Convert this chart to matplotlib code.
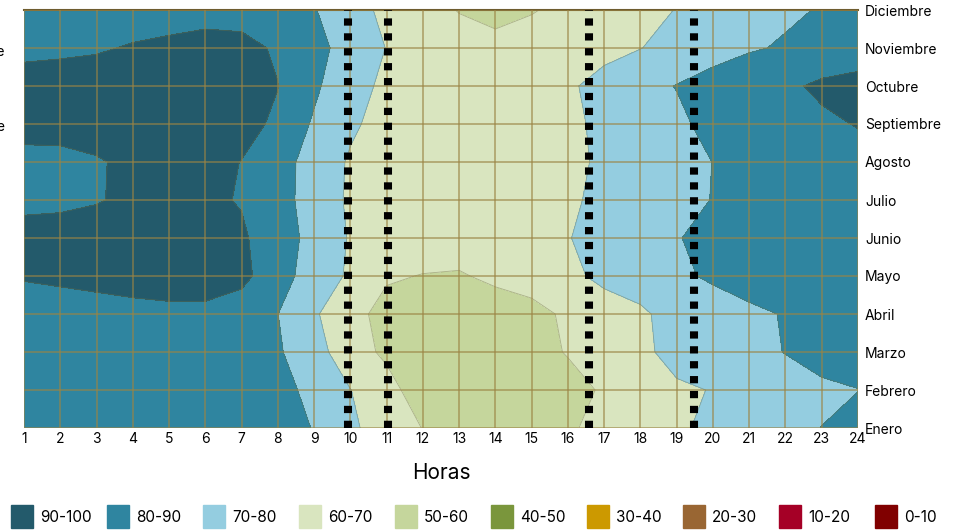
import numpy as np
import matplotlib.pyplot as plt
from matplotlib.patches import Rectangle

plt.rcParams['font.family'] = ['Inter', 'DejaVu Sans']

# datos
horas = list(range(1, 25))
meses = ['Enero', 'Febrero', 'Marzo', 'Abril', 'Mayo', 'Junio', 'Julio',
         'Agosto', 'Septiembre', 'Octubre', 'Noviembre', 'Diciembre']

ene = [86, 86, 86, 86.5, 86.5, 86, 85.5, 83, 79.7, 72, 64.6, 59.8,
       55, 53, 54, 59, 62.3, 65, 68, 73, 75.5, 78, 80.1, 84]
feb = [86, 86, 86, 86, 86, 86, 85.5, 83, 77.5, 70.2, 63, 55.5,
       52.5, 52, 53, 55.5, 61.5, 64, 68, 70.5, 73, 77, 78.5, 79.8]
mar = [86, 86, 86, 86, 86, 86, 85, 81, 74.3, 63.55, 58.5, 55,
       54, 54, 55.5, 60.8, 63.5, 67, 74.5, 76, 78, 80.2, 83, 85]
abr = [87, 87.5, 88, 88.5, 89, 89, 85, 80.1, 71.2, 63, 57, 55.5,
       55, 56, 57.5, 61.35, 64, 68, 74.7, 76, 78, 80.6, 83, 85]
may = [90.5, 91, 91.5, 92, 92, 92, 92.6, 84, 75.5, 68.6, 61, 59.7,
       59.3, 61.6, 63.5, 67, 73, 76, 78.5, 81.2, 84.5, 86, 87, 87.5]
jun = [93, 93, 93, 93, 93, 92.5, 90.8, 86.8, 75.5, 69.4, 66.5, 64.5,
       64, 63.5, 64, 69.5, 74.5, 76, 79.3, 84, 86, 87, 87.5, 88]
jul = [88, 88.5, 89.6, 91.2, 92, 91, 89.65, 85.5, 73.8, 69.05, 66, 64.5,
       63, 62, 62.5, 67.5, 73.75, 75.5, 78, 80.2, 84, 86, 86.5, 87]
ago = [88.5, 88.5, 89.5, 91.2, 92, 91.5, 89.9, 86, 74, 69.3, 66.5, 64.5,
       63, 62.5, 63, 66, 72.7, 75, 77.5, 80.08, 84, 86, 86.5, 87.3]
sep = [91.8, 92, 92.5, 93, 93, 93, 91.5, 89.2, 78.6, 71, 67.7, 65,
       63, 62.5, 63, 67, 73, 75.5, 78, 83, 86, 87, 88.5, 90.4]
oct_ = [93, 93, 93, 93.5, 93.5, 93.5, 92, 90.1, 82, 72, 68.9, 66,
        64.5, 63.5, 64, 68.5, 73.5, 77, 80.33, 84, 87, 88.5, 91.5, 92]
nov = [88.2, 88.8, 89.4, 90.5, 91.5, 92, 91.5, 89.36, 83, 76.2, 69.75, 66,
       64, 63, 63.5, 65, 67, 69.8, 73, 76, 79, 81, 84, 86.8]
dic = [86, 86, 86, 87, 87, 88, 88, 85, 80.5, 74.3, 67.5, 63.6,
       59.6, 57, 59.5, 62, 65, 68, 70.2, 73, 76, 78.5, 80.6, 82]

lineas_horas = [9.94, 11.03, 16.59, 19.48]

rangos = ['90-100', '80-90', '70-80', '60-70', '50-60',
          '40-50', '30-40', '20-30', '10-20', '0-10']
colores = ['#235a6b', '#2f85a0', '#94cde0', '#d9e5bf', '#c5d69c',
           '#7a963c', '#cc9900', '#996633', '#a50026', '#800000']

W, H = 962, 531
fig = plt.figure(figsize=(W / 100, H / 100), dpi=100)
ax = fig.add_axes([24 / W, 1 - 428 / H, 834 / W, 418 / H])

Z = np.array([ene, feb, mar, abr, may, jun, jul, ago, sep, oct_, nov, dic])
filas = np.arange(len(meses))
niveles = np.arange(0, 101, 10)

ax.contourf(horas, filas, Z, levels=niveles, colors=colores[::-1])
ax.contour(horas, filas, Z, levels=niveles[1:-1], colors='#6f6f40',
           linewidths=0.6, alpha=0.45)

for h in lineas_horas:
    ax.axvline(h, color='black', lw=5.8, dashes=(0.9, 0.95), zorder=4)

ax.set_xlim(1, 24)
ax.set_ylim(0, 11)
ax.set_xticks(horas)
ax.set_yticks(filas)
ax.set_yticklabels(meses)
ax.yaxis.tick_right()
ax.tick_params(length=0, labelsize=10, colors='black')
ax.tick_params(axis='x', pad=3)
ax.tick_params(axis='y', pad=5)
ax.grid(True, color='#9b8444', alpha=0.6, lw=1.4)
ax.set_axisbelow(False)
for s in ['left', 'right', 'bottom']:
    ax.spines[s].set_visible(False)
ax.spines['top'].set_color('#6e5c2e')
ax.spines['top'].set_linewidth(1.5)

ax.set_xlabel('Horas', fontsize=15, labelpad=12)

# etiquetas cortadas a la izquierda
fig.text(5 / W, 1 - 52 / H, 'Noviembre', ha='right', va='center', fontsize=10)
fig.text(5 / W, 1 - 127 / H, 'Septiembre', ha='right', va='center', fontsize=10)

# leyenda
for i, (lab, col) in enumerate(zip(rangos, colores)):
    x0 = 11 + 96 * i
    fig.patches.append(Rectangle((x0 / W, 1 - 528 / H), 22 / W, 23 / H,
                                 transform=fig.transFigure, color=col))
    fig.text((x0 + 29) / W, 1 - 518 / H, lab, va='center', fontsize=11)

fig.savefig('out.png', dpi=100)
